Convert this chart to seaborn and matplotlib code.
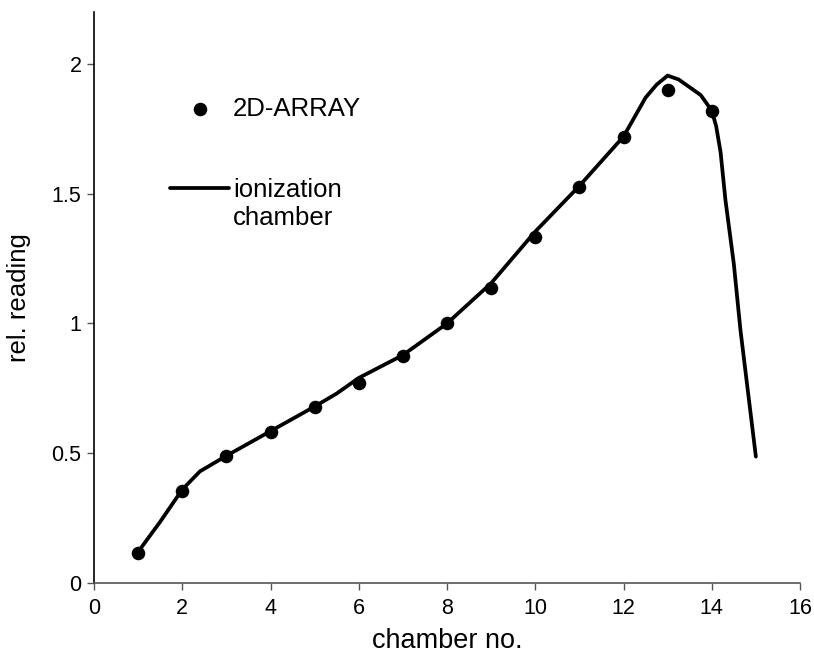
import matplotlib
matplotlib.use("Agg")
import matplotlib.pyplot as plt
import seaborn as sns
import pandas as pd

# 2D-ARRAY measurements
array_chamber = [1, 2, 3, 4, 5, 6, 7, 8, 9, 10, 11, 12, 13, 14]
array_reading = [0.117, 0.356, 0.489, 0.583, 0.679, 0.772, 0.876, 1.003,
                 1.136, 1.335, 1.527, 1.717, 1.90, 1.82]

# ionization chamber curve
ion_chamber = [1.0, 1.5, 2.0, 2.4, 3.0, 4.0, 5.0, 5.5, 6.0, 6.5, 7.0, 8.0,
               9.0, 10.0, 11.0, 12.0, 12.5, 12.75, 13.0, 13.25, 13.5, 13.75,
               14.0, 14.1, 14.2, 14.31, 14.5, 14.65, 15.0]
ion_reading = [0.12, 0.236, 0.36, 0.43, 0.49, 0.585, 0.68, 0.73, 0.79, 0.834,
               0.878, 1.0, 1.155, 1.354, 1.53, 1.72, 1.87, 1.92, 1.955, 1.94,
               1.91, 1.88, 1.82, 1.76, 1.66, 1.476, 1.23, 0.975, 0.487]

x_ticks = [0, 2, 4, 6, 8, 10, 12, 14, 16]
y_ticks = [0, 0.5, 1, 1.5, 2]
y_tick_labels = ["0", "0.5", "1", "1.5", "2"]
legend_labels = ["2D-ARRAY", "ionization", "chamber"]

df_arr = pd.DataFrame({"chamber": array_chamber, "reading": array_reading})
df_ion = pd.DataFrame({"chamber": ion_chamber, "reading": ion_reading})

sns.set_style("ticks")
plt.rcParams["font.family"] = ["Liberation Sans", "DejaVu Sans"]
plt.rcParams["text.color"] = "black"
plt.rcParams["axes.labelcolor"] = "black"
plt.rcParams["xtick.color"] = "#555555"
plt.rcParams["ytick.color"] = "#555555"
plt.rcParams["xtick.labelcolor"] = "black"
plt.rcParams["ytick.labelcolor"] = "black"

fig = plt.figure(figsize=(8.14, 6.56), dpi=100)
ax = fig.add_axes([94 / 814, (656 - 583) / 656, (800 - 94) / 814, (583 - 12) / 656])

sns.lineplot(data=df_ion, x="chamber", y="reading", ax=ax, color="black",
             linewidth=2.7, sort=False, label=legend_labels[1], zorder=2)
sns.scatterplot(data=df_arr, x="chamber", y="reading", ax=ax, color="black",
                s=95, edgecolor="black", linewidth=0, label=legend_labels[0], zorder=3)

ax.set_xlim(0, 16)
ax.set_ylim(0, 2.2)
ax.set_xticks(x_ticks)
ax.set_xticklabels([str(t) for t in x_ticks], fontsize=15.5)
ax.set_yticks(y_ticks)
ax.set_yticklabels(y_tick_labels, fontsize=15.5)
ax.set_xlabel("chamber no.", fontsize=19.5, labelpad=6)
ax.set_ylabel("rel. reading", fontsize=18.5, labelpad=15)

for s in ["top", "right"]:
    ax.spines[s].set_visible(False)
ax.spines["left"].set_color("black")
ax.spines["left"].set_linewidth(1.2)
ax.spines["bottom"].set_color("#555555")
ax.spines["bottom"].set_linewidth(1.2)
ax.tick_params(axis="both", direction="out", length=5, width=1, color="#555555")
ax.tick_params(axis="x", pad=6)
ax.tick_params(axis="y", pad=4)

handles, labels = ax.get_legend_handles_labels()
order = [labels.index(legend_labels[0]), labels.index(legend_labels[1])]
leg = ax.legend([handles[i] for i in order], [labels[i] for i in order],
                loc="upper left", bbox_to_anchor=((170 - 94) / 706, (583 - 97) / 571),
                frameon=False, fontsize=18.5, borderpad=0, borderaxespad=0,
                handlelength=2.3, handletextpad=0.15, labelspacing=2.2)

# second line of the "ionization chamber" label, placed under the legend text
fig.canvas.draw()
t = leg.get_texts()[1]
bb = t.get_window_extent()
inv = fig.transFigure.inverted()
x0, y0 = inv.transform((bb.x0, bb.y0))
fig.text(x0, y0 - 4 / 656, legend_labels[2], fontsize=18.5, ha="left", va="top",
         color="black")

fig.savefig("out.png", dpi=100)
